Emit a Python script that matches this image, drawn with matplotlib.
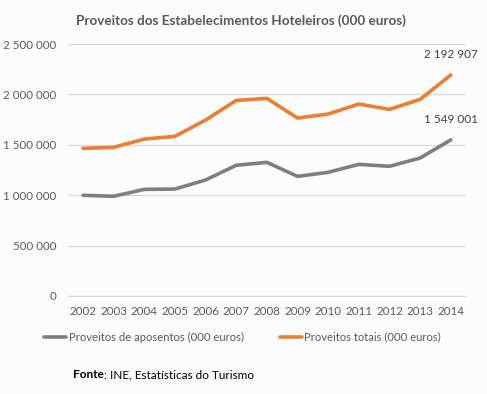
import matplotlib.pyplot as plt
from matplotlib.ticker import FuncFormatter

plt.rcParams['font.family'] = ['Lato', 'DejaVu Sans']

anos = list(range(2002, 2015))
aposentos = [999000, 989000, 1058000, 1061000, 1151000, 1297000, 1326000,
             1187000, 1227000, 1306000, 1287000, 1369000, 1549001]
totais = [1465000, 1475000, 1557000, 1584000, 1746000, 1941000, 1961000,
          1766000, 1806000, 1905000, 1852000, 1951000, 2192907]

cinza = '#7f7f7f'
laranja = '#ed7d31'
texto = '#595959'


def fmt(v, pos=None):
    return f'{int(v):,}'.replace(',', ' ')


fig = plt.figure(figsize=(4.87, 3.94), dpi=100, facecolor='#fcfcfc')
ax = fig.add_axes([0.139, 0.249, 0.818, 0.639], facecolor='#fcfcfc')

ax.plot(anos, aposentos, color=cinza, lw=2.6, solid_capstyle='round',
        label='Proveitos de aposentos (000 euros)')
ax.plot(anos, totais, color=laranja, lw=2.6, solid_capstyle='round',
        label='Proveitos totais (000 euros)')

for serie in (aposentos, totais):
    ax.annotate(fmt(serie[-1]), (anos[-1], serie[-1]), xytext=(0, 11),
                textcoords='offset points', ha='center', va='bottom',
                fontsize=8.5, color='#404040')

ax.set_xlim(2001.5, 2014.5)
ax.set_ylim(0, 2500000)
ax.set_yticks(range(0, 2500001, 500000))
ax.yaxis.set_major_formatter(FuncFormatter(fmt))
ax.set_xticks(anos)
ax.grid(axis='y', color='#d9d9d9', lw=0.9)
ax.set_axisbelow(True)
for s in ax.spines.values():
    s.set_visible(False)
ax.spines['bottom'].set_visible(True)
ax.spines['bottom'].set_color('#d9d9d9')
ax.tick_params(length=0, labelsize=8.3, colors=texto, pad=7)
ax.tick_params(axis='y', pad=8)

fig.text(0.495, 0.947, 'Proveitos dos Estabelecimentos Hoteleiros (000 euros)',
         fontsize=9.7, fontweight='bold', color=texto, ha='center', va='center')

fig.legend(loc='center', bbox_to_anchor=(0.498, 0.144), ncol=2, frameon=False,
           fontsize=8.1, labelcolor=texto, handlelength=2.0, handletextpad=0.2,
           columnspacing=3.2)

t1 = fig.text(0.15, 0.04, 'Fonte', fontsize=8.5, fontweight='bold', color='black')
fig.canvas.draw()
bb = t1.get_window_extent().transformed(fig.transFigure.inverted())
fig.text(bb.x1, 0.04, ': INE, Estatísticas do Turismo', fontsize=8.5, color='black')

fig.savefig('out.png', dpi=100, facecolor=fig.get_facecolor())
